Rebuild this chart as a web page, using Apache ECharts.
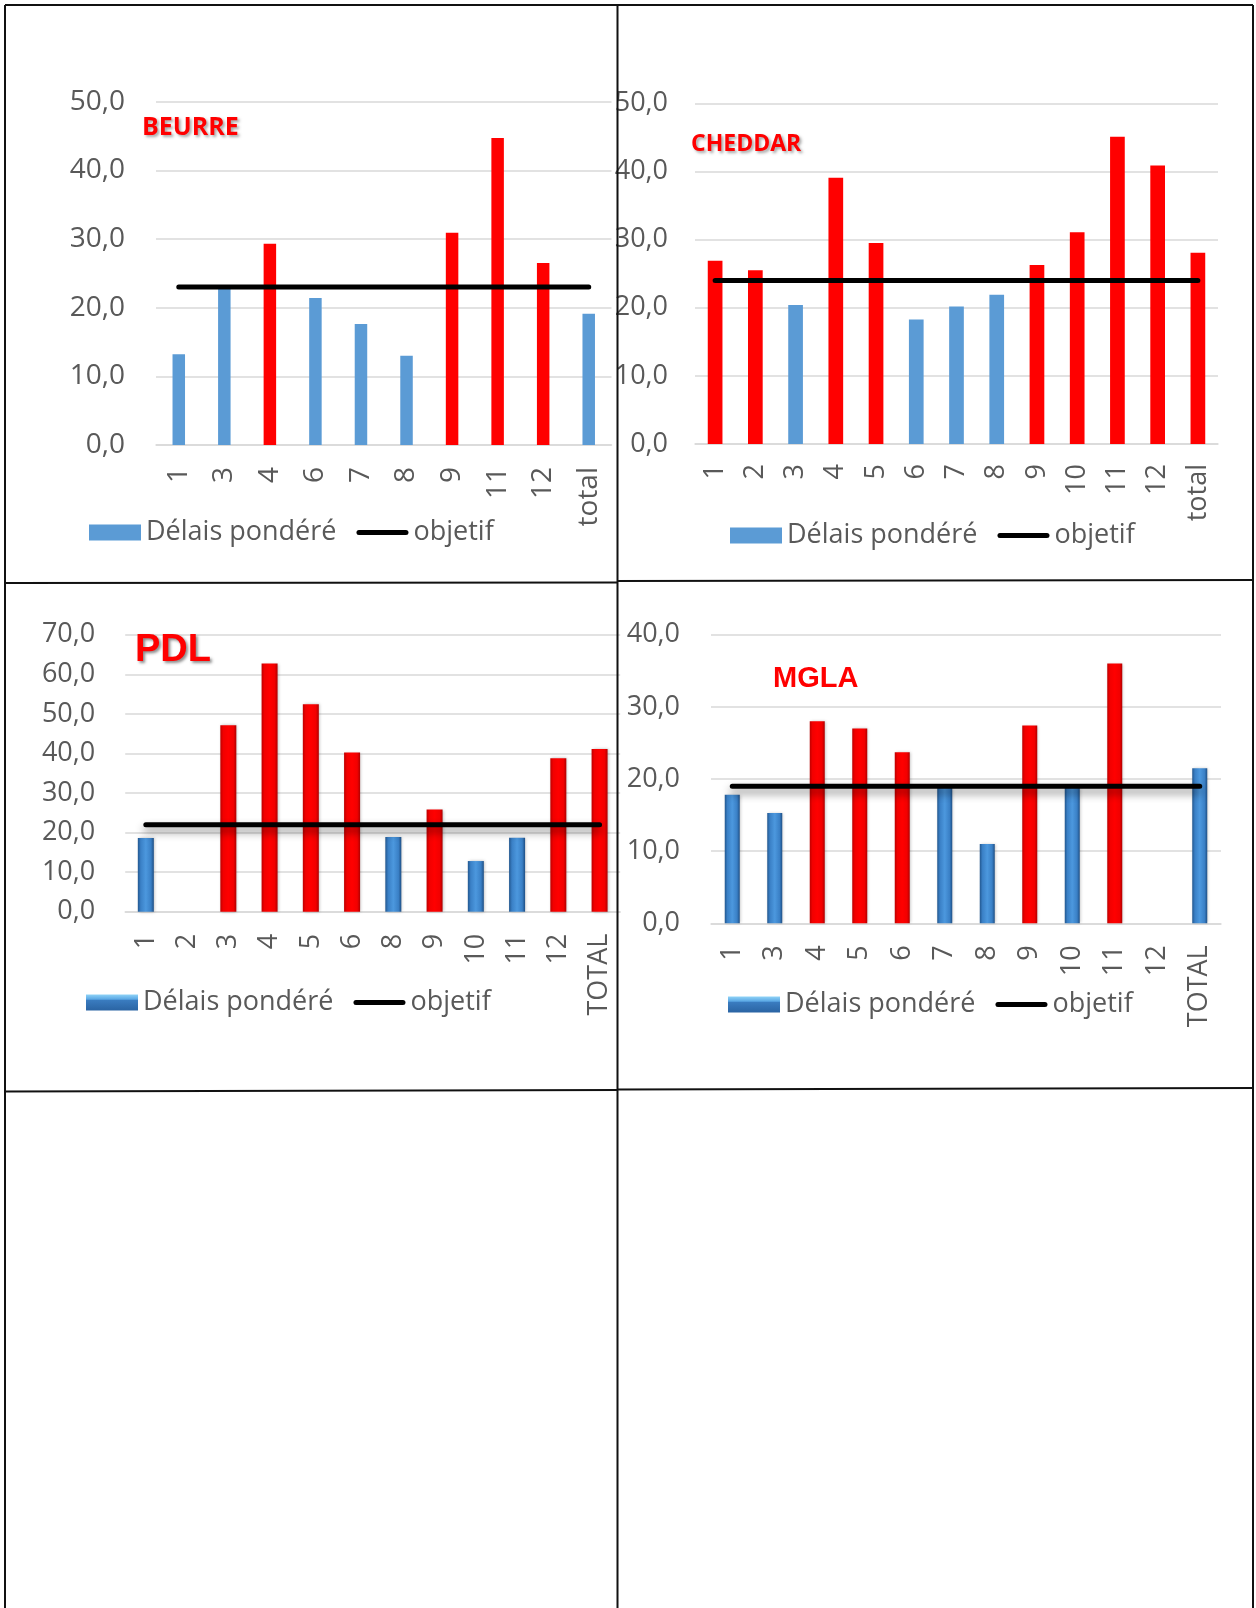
<!DOCTYPE html>
<html>
<head>
<meta charset="utf-8">
<title>Délais pondéré</title>
<script src="https://cdn.jsdelivr.net/npm/echarts@6/dist/echarts.min.js"></script>
<style>
  html, body { margin: 0; padding: 0; background: #ffffff; }
  #chart { width: 1256px; height: 1608px; }
</style>
</head>
<body>
<div id="chart"></div>
<script>
// ---- data ----
// "alert" flags mark the bars drawn in red
const beurreCategories = ['1', '3', '4', '6', '7', '8', '9', '11', '12', 'total'];
const beurreValues = [13.2, 22.8, 29.3, 21.4, 17.6, 13.0, 30.9, 44.7, 26.5, 19.1];
const beurreAlert = [0, 0, 1, 0, 0, 0, 1, 1, 1, 0];
const beurreObjective = 23.0;

const cheddarCategories = ['1', '2', '3', '4', '5', '6', '7', '8', '9', '10', '11', '12', 'total'];
const cheddarValues = [26.9, 25.5, 20.4, 39.1, 29.5, 18.3, 20.2, 21.9, 26.3, 31.1, 45.1, 40.9, 28.1];
const cheddarAlert = [1, 1, 0, 1, 1, 0, 0, 0, 1, 1, 1, 1, 1];
const cheddarObjective = 24.0;

const pdlCategories = ['1', '2', '3', '4', '5', '6', '8', '9', '10', '11', '12', 'TOTAL'];
const pdlValues = [18.6, null, 47.1, 62.7, 52.4, 40.2, 18.9, 25.8, 12.8, 18.7, 38.8, 41.1];
const pdlAlert = [0, 0, 1, 1, 1, 1, 0, 1, 0, 0, 1, 1];
const pdlObjective = 22.0;

const mglaCategories = ['1', '3', '4', '5', '6', '7', '8', '9', '10', '11', '12', 'TOTAL'];
const mglaValues = [17.8, 15.3, 28.0, 27.0, 23.7, 18.8, 11.0, 27.4, 18.8, 36.0, null, 21.5];
const mglaAlert = [0, 0, 1, 1, 1, 0, 0, 1, 0, 1, 0, 0];
const mglaObjective = 19.0;

const axisMaxima = { beurre: 50, cheddar: 50, pdl: 70, mgla: 40 };

// ---- styling ----
const FONT = '"Open Sans", "DejaVu Sans", sans-serif';
const TEXT_GREY = '#595959';
const GRID_GREY = '#D9D9D9';
// thick rounded stroke used as the legend key of the objective line
const LINE_KEY = 'path://M2.5,0H49.5A2.5,2.5,0,0,1,49.5,5H2.5A2.5,2.5,0,0,1,2.5,0Z';

const flatBlue = '#5B9BD5';
const flatRed = '#FF0000';
const bevelBlue = new echarts.graphic.LinearGradient(0, 0, 1, 0, [
  { offset: 0, color: '#22578F' },
  { offset: 0.18, color: '#3A80C6' },
  { offset: 0.5, color: '#4C98DE' },
  { offset: 0.82, color: '#3A80C6' },
  { offset: 1, color: '#1E4F85' }
]);
const bevelRed = new echarts.graphic.LinearGradient(0, 0, 1, 0, [
  { offset: 0, color: '#BE0000' },
  { offset: 0.18, color: '#F20000' },
  { offset: 0.5, color: '#FF0000' },
  { offset: 0.82, color: '#F20000' },
  { offset: 1, color: '#B00000' }
]);
const legendBevelBlue = new echarts.graphic.LinearGradient(0, 0, 0, 1, [
  { offset: 0, color: '#8FD3F7' },
  { offset: 0.3, color: '#5AA7E4' },
  { offset: 0.35, color: '#3A7CC0' },
  { offset: 1, color: '#2A64A3' }
]);

// one entry per panel: data + where it sits on the page
const panels = [
  {
    key: 'beurre', title: 'BEURRE', categories: beurreCategories, values: beurreValues, alert: beurreAlert, objective: beurreObjective,
    grid: { left: 156, top: 101.6, width: 455.5, height: 343.4 },
    barWidth: 12.5, bevel: false, yMargin: 31, xMargin: 22, labelSize: 28,
    titleStyle: { left: 142, top: 115, fontSize: 25, family: FONT, shadow: 'rgba(0,0,0,0.35)' },
    legend: { left: 89, top: 519 }
  },
  {
    key: 'cheddar', title: 'CHEDDAR', categories: cheddarCategories, values: cheddarValues, alert: cheddarAlert, objective: cheddarObjective,
    grid: { left: 695, top: 103.5, width: 523, height: 340.5 },
    barWidth: 14.7, bevel: false, yMargin: 27, xMargin: 20, labelSize: 27,
    titleStyle: { left: 691, top: 133, fontSize: 23, family: FONT, shadow: 'rgba(0,0,0,0.35)' },
    legend: { left: 730, top: 522 }
  },
  {
    key: 'pdl', title: 'PDL', categories: pdlCategories, values: pdlValues, alert: pdlAlert, objective: pdlObjective,
    grid: { left: 125.2, top: 634.7, width: 495, height: 277 },
    barWidth: 16, bevel: true, yMargin: 30, xMargin: 22, labelSize: 27,
    titleStyle: { left: 135, top: 632, fontSize: 38, family: '"Liberation Sans", Arial, sans-serif', shadow: 'rgba(0,0,0,0.45)' },
    legend: { left: 86, top: 989 }
  },
  {
    key: 'mgla', title: 'MGLA', categories: mglaCategories, values: mglaValues, alert: mglaAlert, objective: mglaObjective,
    grid: { left: 711, top: 634.7, width: 510, height: 288.6 },
    barWidth: 15, bevel: true, yMargin: 31, xMargin: 22, labelSize: 27,
    titleStyle: { left: 773, top: 664, fontSize: 29, family: '"Liberation Sans", Arial, sans-serif', shadow: null },
    legend: { left: 728, top: 991 }
  }
];

const option = {
  animation: false,
  backgroundColor: '#ffffff',
  title: [], grid: [], xAxis: [], yAxis: [], series: [], legend: [],
  graphic: []
};

panels.forEach((p, i) => {
  const blue = p.bevel ? bevelBlue : flatBlue;
  const red = p.bevel ? bevelRed : flatRed;

  option.title.push({
    text: p.title,
    left: p.titleStyle.left, top: p.titleStyle.top, padding: 0,
    textStyle: {
      fontFamily: p.titleStyle.family, fontWeight: 'bold', fontSize: p.titleStyle.fontSize, color: '#FF0000',
      textShadowColor: p.titleStyle.shadow || 'transparent',
      textShadowBlur: p.titleStyle.shadow ? 3 : 0,
      textShadowOffsetX: p.titleStyle.shadow ? 2 : 0,
      textShadowOffsetY: p.titleStyle.shadow ? 2 : 0
    }
  });

  option.grid.push(Object.assign({ containLabel: false }, p.grid));

  option.xAxis.push({
    type: 'category', gridIndex: i, data: p.categories,
    axisLine: { show: true, lineStyle: { color: GRID_GREY, width: 1.5 } },
    axisTick: { show: false },
    axisLabel: { rotate: 90, margin: p.xMargin, fontFamily: FONT, fontSize: p.labelSize, color: TEXT_GREY, interval: 0 }
  });

  option.yAxis.push({
    type: 'value', gridIndex: i, min: 0, max: axisMaxima[p.key], interval: 10,
    axisLine: { show: false }, axisTick: { show: false },
    splitLine: { lineStyle: { color: GRID_GREY, width: 1.5 } },
    axisLabel: {
      margin: p.yMargin, fontFamily: FONT, fontSize: p.labelSize, color: TEXT_GREY,
      formatter: v => v.toFixed(1).replace('.', ',')
    }
  });

  option.series.push({
    name: 'Délais pondéré', type: 'bar', xAxisIndex: i, yAxisIndex: i,
    barWidth: p.barWidth,
    itemStyle: Object.assign({ color: blue }, p.bevel ? { shadowColor: 'rgba(0,0,0,0.25)', shadowBlur: 3, shadowOffsetX: 1 } : {}),
    data: p.values.map((v, k) => v === null ? null : {
      value: v,
      itemStyle: { color: p.alert[k] ? red : blue }
    }),
    z: 2
  });

  option.series.push({
    name: 'objetif', type: 'line', xAxisIndex: i, yAxisIndex: i,
    symbol: 'none', showSymbol: false,
    lineStyle: Object.assign({ color: '#000000', width: 5, cap: 'round' },
      p.bevel ? { shadowColor: 'rgba(0,0,0,0.45)', shadowBlur: 8, shadowOffsetY: 5 } : {}),
    itemStyle: { color: '#000000' },
    data: p.categories.map(() => p.objective),
    z: 3
  });

  option.legend.push({
    left: p.legend.left, top: p.legend.top, padding: 0, itemGap: 20,
    itemWidth: 52, itemHeight: 16, symbolKeepAspect: true,
    textStyle: { fontFamily: FONT, fontSize: 27, color: TEXT_GREY },
    data: [
      { name: 'Délais pondéré', icon: 'rect', itemStyle: { color: p.bevel ? legendBevelBlue : flatBlue } },
      { name: 'objetif', icon: LINE_KEY, itemStyle: { color: '#000000', borderWidth: 0 } }
    ],
    seriesIndex: [2 * i, 2 * i + 1]
  });
});

// table frame around the four panels
const frameSegments = [
  [5, 5, 1253, 5],
  [5, 5, 5, 1608],
  [1253, 5, 1253, 1608],
  [617.5, 5, 617.5, 1608],
  [5, 583, 617.5, 582.5],
  [617.5, 581, 1253, 580],
  [5, 1091.5, 617.5, 1090],
  [617.5, 1089.5, 1253, 1088]
];
frameSegments.forEach(s => {
  option.graphic.push({
    type: 'line', silent: true, z: 100,
    shape: { x1: s[0], y1: s[1], x2: s[2], y2: s[3] },
    style: { stroke: '#111111', lineWidth: 2 }
  });
});

const chart = echarts.init(document.getElementById('chart'), null, { renderer: 'canvas' });
chart.setOption(option);
</script>
</body>
</html>
